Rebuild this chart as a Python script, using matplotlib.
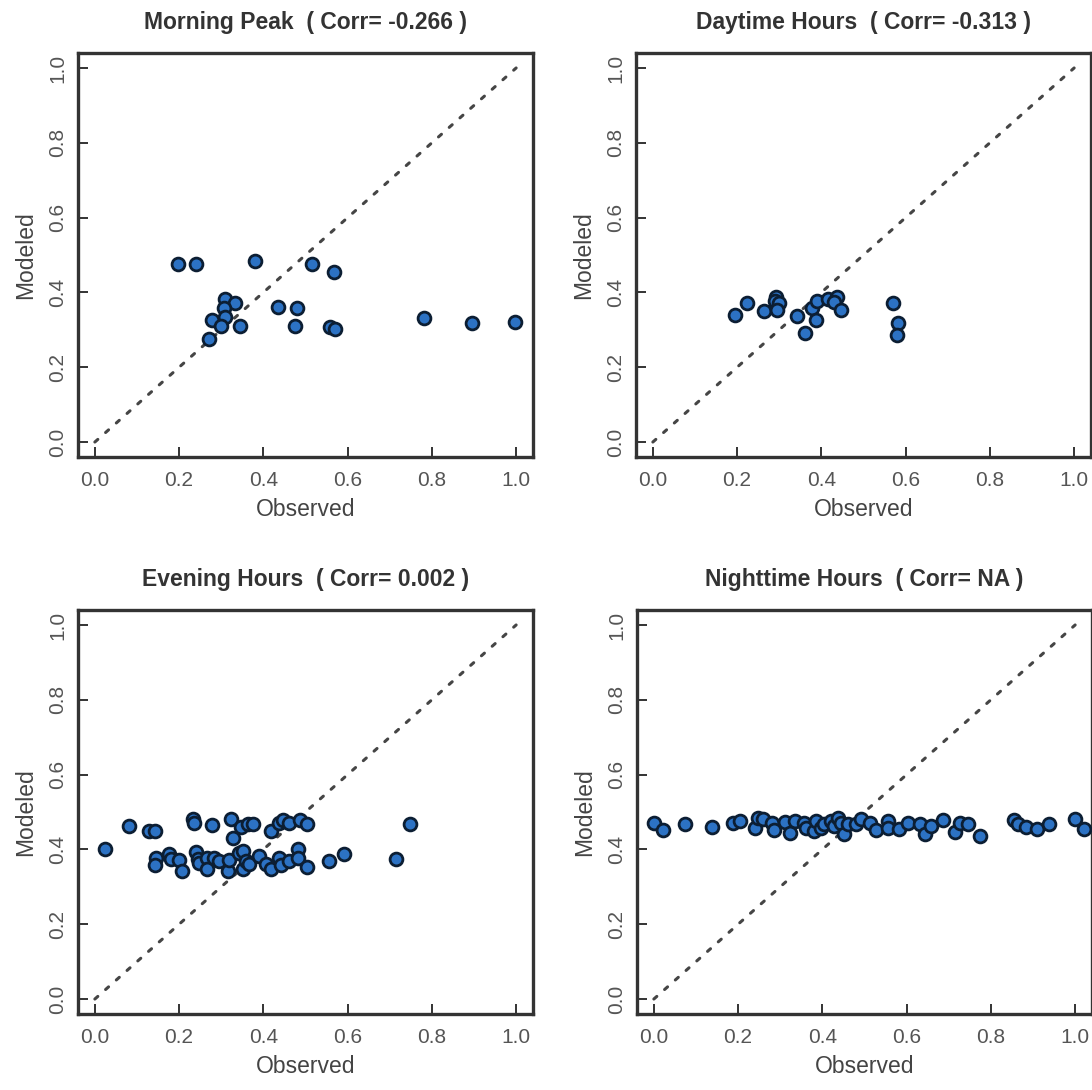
import matplotlib
matplotlib.use("Agg")
import matplotlib.pyplot as plt

plt.rcParams['font.family'] = ['Liberation Sans', 'DejaVu Sans']

# observed / modeled pairs for each time window
titles = [
    "Morning Peak  ( Corr= -0.266 )",
    "Daytime Hours  ( Corr= -0.313 )",
    "Evening Hours  ( Corr= 0.002 )",
    "Nighttime Hours  ( Corr= NA )",
]

obs_morning = [0.198, 0.240, 0.381, 0.515, 0.567, 0.310, 0.332, 0.307, 0.310, 0.278,
               0.299, 0.344, 0.270, 0.435, 0.479, 0.475, 0.557, 0.570, 0.782, 0.895, 0.998]
mod_morning = [0.476, 0.476, 0.485, 0.476, 0.454, 0.383, 0.373, 0.357, 0.335, 0.326,
               0.311, 0.311, 0.275, 0.362, 0.357, 0.311, 0.308, 0.303, 0.331, 0.317, 0.322]

obs_daytime = [0.194, 0.224, 0.264, 0.293, 0.290, 0.300, 0.294, 0.342, 0.362, 0.378,
               0.388, 0.390, 0.416, 0.438, 0.431, 0.447, 0.570, 0.583, 0.579]
mod_daytime = [0.340, 0.373, 0.349, 0.389, 0.378, 0.371, 0.353, 0.336, 0.292, 0.358,
               0.326, 0.378, 0.383, 0.389, 0.375, 0.353, 0.372, 0.317, 0.286]

obs_evening = [0.024, 0.081, 0.129, 0.143, 0.233, 0.236, 0.279, 0.323, 0.347, 0.363,
               0.375, 0.329, 0.418, 0.438, 0.446, 0.462, 0.486, 0.504,
               0.144, 0.143, 0.176, 0.180, 0.200, 0.206, 0.240, 0.244, 0.248, 0.267,
               0.267, 0.283, 0.295, 0.315, 0.319, 0.343, 0.351, 0.351, 0.359, 0.367,
               0.390, 0.406, 0.418, 0.438, 0.442, 0.462, 0.482, 0.482, 0.504, 0.556,
               0.591, 0.749, 0.714]
mod_evening = [0.402, 0.462, 0.449, 0.449, 0.480, 0.471, 0.464, 0.480, 0.460, 0.467,
               0.467, 0.431, 0.449, 0.471, 0.478, 0.471, 0.478, 0.467,
               0.378, 0.357, 0.387, 0.375, 0.373, 0.342, 0.393, 0.375, 0.364, 0.378,
               0.348, 0.378, 0.369, 0.342, 0.373, 0.391, 0.396, 0.347, 0.369, 0.360,
               0.382, 0.360, 0.347, 0.378, 0.357, 0.369, 0.400, 0.378, 0.353, 0.369,
               0.387, 0.467, 0.375]

obs_night = [0.0, 0.021, 0.073, 0.139, 0.188, 0.204, 0.240, 0.248, 0.26, 0.280,
             0.284, 0.312, 0.324, 0.336, 0.356, 0.360, 0.38, 0.384, 0.396, 0.404,
             0.42, 0.428, 0.436, 0.444, 0.452, 0.460, 0.480, 0.492, 0.512, 0.527,
             0.555, 0.555, 0.583, 0.603, 0.631, 0.643, 0.659, 0.687, 0.715, 0.727,
             0.745, 0.774, 0.855, 0.865, 0.883, 0.909, 0.937, 1.0, 1.02]
mod_night = [0.471, 0.452, 0.467, 0.460, 0.471, 0.476, 0.456, 0.483, 0.480, 0.471,
             0.453, 0.474, 0.444, 0.476, 0.471, 0.458, 0.450, 0.476, 0.458, 0.467,
             0.476, 0.462, 0.484, 0.471, 0.440, 0.467, 0.467, 0.480, 0.471, 0.453,
             0.476, 0.458, 0.455, 0.471, 0.467, 0.440, 0.462, 0.478, 0.447, 0.471,
             0.469, 0.436, 0.478, 0.467, 0.460, 0.455, 0.467, 0.482, 0.455]

observed = [obs_morning, obs_daytime, obs_evening, obs_night]
modeled = [mod_morning, mod_daytime, mod_evening, mod_night]
ticks = [0.0, 0.2, 0.4, 0.6, 0.8, 1.0]

fig = plt.figure(figsize=(10.92, 10.90), dpi=100)

W, H = 1092, 1090
boxes = [(78, 53), (636, 53), (78, 610), (637, 610)]  # left, top in pixels
bw, bh = 455, 404

for i in range(4):
    l, t = boxes[i]
    ax = fig.add_axes([l / W, 1 - (t + bh) / H, bw / W, bh / H])
    ax.plot([0, 1], [0, 1], color="#454545", lw=2.2, linestyle=(0, (1.3, 3.4)),
            dash_capstyle="round", zorder=1)
    ax.scatter(observed[i], modeled[i], s=85, color="#2c72c4",
               edgecolors="#0c1e33", linewidths=2.0, zorder=3)
    ax.set_xlim(-0.04, 1.04)
    ax.set_ylim(-0.04, 1.04)
    ax.set_xticks(ticks)
    ax.set_yticks(ticks)
    ax.set_xticklabels(["%.1f" % v for v in ticks])
    ax.set_yticklabels(["%.1f" % v for v in ticks], rotation=90, va="center")
    ax.tick_params(direction="in", length=7, width=1.4, color="#333333",
                   labelsize=15, labelcolor="#555555", pad=10)
    ax.tick_params(axis="y", pad=8)
    for sp in ax.spines.values():
        sp.set_linewidth(2.4)
        sp.set_color("#333333")
    ax.set_xlabel("Observed", fontsize=16.5, color="#444444", labelpad=6)
    ax.set_ylabel("Modeled", fontsize=16.5, color="#444444", labelpad=8)
    ax.set_title(titles[i], fontsize=16.5, fontweight="bold", color="#333333", pad=17)

fig.savefig("out.png", dpi=100)
